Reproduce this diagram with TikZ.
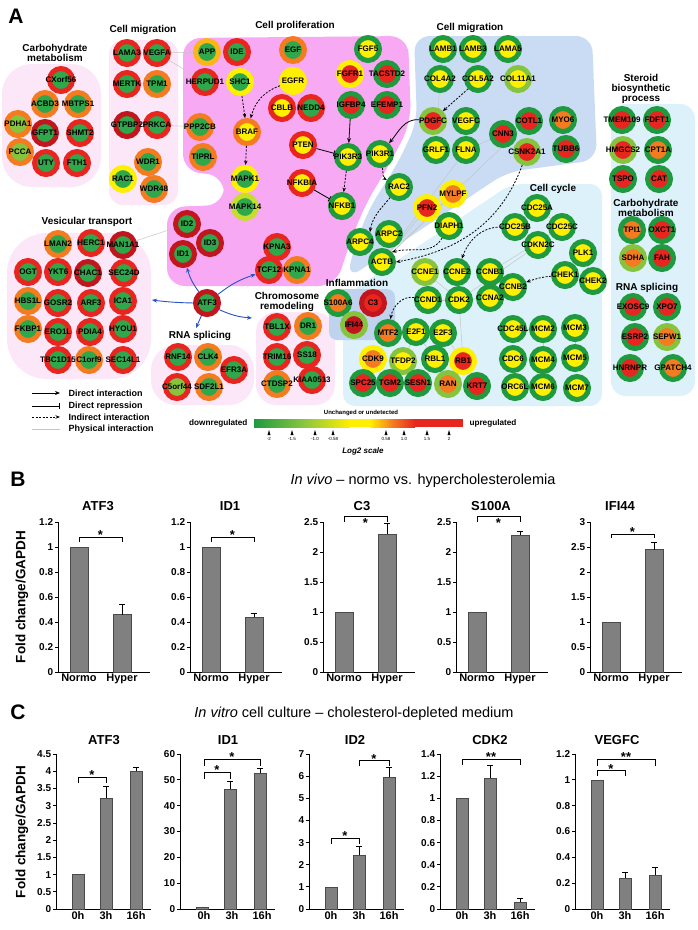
\documentclass[tikz,border=0pt]{standalone}
\usepackage{fontspec}
\setmainfont{Liberation Sans}
\usetikzlibrary{arrows.meta, positioning}
\definecolor{cGrn}{HTML}{2EA84A}
\definecolor{cGdk}{HTML}{1F9A3F}
\definecolor{cGlt}{HTML}{86C440}
\definecolor{cYg}{HTML}{C6DD2E}
\definecolor{cYel}{HTML}{FFEF00}
\definecolor{cYor}{HTML}{FBB516}
\definecolor{cOrg}{HTML}{F47B20}
\definecolor{cRed}{HTML}{E8251F}
\definecolor{cDred}{HTML}{C1161E}
\definecolor{bgPale}{HTML}{FBE7F8}
\definecolor{bgMag}{HTML}{F8A9F3}
\definecolor{bgBlue}{HTML}{C9DCF4}
\definecolor{bgCyan}{HTML}{DDF1FA}
\definecolor{bgInf}{HTML}{BFD3EF}
\definecolor{cBlue}{HTML}{2A52C8}
\definecolor{barGray}{HTML}{808080}
\definecolor{barEdge}{HTML}{4A4A4A}
\pgfdeclarelayer{back}
\pgfdeclarelayer{mid}
\pgfsetlayers{back,mid,main}
\newcommand{\gn}[4]{\node[gene={#3}{#4}] (#1) at (#2) {\makebox[0pt]{#1}};}

\begin{document}
\begin{tikzpicture}[x=1pt, y=-1pt,
  gene/.style 2 args={circle, draw=#1, fill=#2, line width=5pt, minimum size=23pt, inner sep=0pt, font=\bfseries\fontsize{8}{8}\selectfont},
  grp/.style={font=\bfseries\fontsize{10}{10}\selectfont, align=center},
  phys/.style={draw=gray!45, line width=0.5pt},
  dirarr/.style={-{Stealth[length=5pt,width=4pt]}, line width=0.8pt},
  reparr/.style={-{Bar[width=6pt]}, line width=0.8pt},
  indarr/.style={-{Stealth[length=4.5pt,width=3.5pt]}, line width=0.8pt, dash pattern=on 2pt off 1.5pt},
  bluarr/.style={-{Stealth[length=5pt,width=4pt]}, line width=0.9pt, cBlue},
  leg/.style={anchor=west, font=\bfseries\fontsize{9}{10}\selectfont},
  axl/.style={line width=0.8pt},
  barf/.style={fill=barGray, draw=barEdge, line width=0.5pt},
  errb/.style={line width=0.7pt},
  brk/.style={line width=0.8pt},
  tk/.style={left, inner sep=1.5pt, font=\bfseries\fontsize{10}{10}\selectfont},
  cat/.style={below, inner sep=2pt, font=\bfseries\fontsize{11}{11}\selectfont},
  ctit/.style={font=\bfseries\fontsize{13}{13}\selectfont},
  ast/.style={anchor=south, inner sep=0pt, yshift=-3pt, font=\bfseries\fontsize{13}{13}\selectfont},
  astb/.style={anchor=north, inner sep=0pt, yshift=-2pt, font=\bfseries\fontsize{13}{13}\selectfont},
  panel/.style={font=\bfseries\fontsize{21}{21}\selectfont},
  ptit/.style={font=\fontsize{14.5}{15}\selectfont},
  ylab/.style={rotate=90, font=\bfseries\fontsize{13.5}{14}\selectfont},
]
\useasboundingbox (0,0) rectangle (697,930);

% Background regions
\begin{pgfonlayer}{back}
\fill[white] (0,0) rectangle (697,930);
\fill[bgPale, rounded corners=30] (2,64) rectangle (101,187);
\fill[bgPale, rounded corners=14] (109,40) rectangle (178,205);
\fill[bgPale, rounded corners=40] (7,233) rectangle (151,379);
\fill[bgPale, rounded corners=25] (151,345) rectangle (254,405);
\fill[bgPale, rounded corners=20] (256,312) rectangle (335,405);
\fill[bgMag, rounded corners=18] (183,172) -- (183,38) -- (408,36) -- (411,122) -- (392,160) -- (365,205) -- (349,245) -- (336,286) -- (167,286) -- (167,207) -- (224,205) -- (224,175) -- cycle;
\fill[bgCyan, rounded corners=12] (343,406) -- (343,297) -- (511,184) -- (602,184) -- (602,406) -- cycle;
\fill[bgBlue, rounded corners=16] (417,122) -- (414,36) -- (592,36) -- (597,160) -- (507,172) -- (347,279) -- (354,247) -- (370,207) -- (398,163) -- cycle;
\fill[bgInf, rounded corners=8] (329,289) rectangle (395,340);
\fill[bgCyan, rounded corners=15] (611,104) rectangle (695,396);
\end{pgfonlayer}

\node[panel] (pA) at (16,16) {A};

% Group titles
\node[grp] (tCarb1) at (55,53) {Carbohydrate\\metabolism};
\node[grp] (tMig1) at (143,30) {Cell migration};
\node[grp] (tProl) at (295,26) {Cell proliferation};
\node[grp] (tMig2) at (470,28) {Cell migration};
\node[grp] (tSter) at (641,89) {Steroid\\biosynthetic\\process};
\node[grp] (tVes) at (87,222) {Vesicular transport};
\node[grp] (tCyc) at (553,189) {Cell cycle};
\node[grp] (tCarb2) at (646,208) {Carbohydrate\\metabolism};
\node[grp] (tRna2) at (647,288) {RNA splicing};
\node[grp] (tRna1) at (200,336) {RNA splicing};
\node[grp] (tChr) at (287,302) {Chromosome\\remodeling};
\node[grp] (tInf) at (357,283) {Inflammation};

% Carbohydrate metabolism (left)
\gn{CXorf56}{61,80}{cRed}{cGrn}
\gn{ACBD3}{45,104}{cOrg}{cGrn}
\gn{MBTPS1}{78,104}{cOrg}{cGrn}
\gn{PDHA1}{18,124}{cOrg}{cGlt}
\gn{GFPT1}{45,133}{cDred}{cGrn}
\gn{SHMT2}{80,133}{cRed}{cGrn}
\gn{PCCA}{20,152}{cOrg}{cGlt}
\gn{UTY}{46,163}{cRed}{cGrn}
\gn{FTH1}{77,163}{cRed}{cGrn}

% Cell migration (left)
\gn{LAMA3}{127,53}{cRed}{cGrn}
\gn{VEGFA}{157,53}{cRed}{cGrn}
\gn{MERTK}{127,84}{cRed}{cGrn}
\gn{TPM1}{157,84}{cOrg}{cGrn}
\gn{GTPBP2}{127,125}{cDred}{cGrn}
\gn{PRKCA}{157,125}{cRed}{cGrn}
\gn{WDR1}{148,162}{cOrg}{cGrn}
\gn{RAC1}{123,179}{cYel}{cGrn}
\gn{WDR48}{154,189}{cOrg}{cGrn}

% Cell proliferation
\gn{APP}{207,52}{cYor}{cGrn}
\gn{IDE}{237,52}{cRed}{cGrn}
\gn{HERPUD1}{205,82}{cRed}{cGrn}
\gn{SHC1}{240,82}{cYel}{cGrn}
\gn{EGF}{293,50}{cOrg}{cGrn}
\gn{EGFR}{293,81}{cYel}{cYel}
\gn{CBLB}{282,108}{cRed}{cYel}
\gn{NEDD4}{311,108}{cRed}{cGrn}
\gn{FGF5}{368,49}{cGdk}{cYel}
\gn{FGFR1}{350,74}{cYel}{cRed}
\gn{TACSTD2}{387,74}{cGdk}{cRed}
\gn{IGFBP4}{351,105}{cGdk}{cRed}
\gn{EFEMP1}{387,105}{cGdk}{cRed}
\gn{PPP2CB}{200,127}{cOrg}{cGrn}
\gn{BRAF}{247,132}{cOrg}{cYel}
\gn{TIPRL}{203,157}{cOrg}{cGrn}
\gn{PTEN}{303,145}{cRed}{cYel}
\gn{PIK3R3}{348,157}{cGdk}{cYel}
\gn{PIK3R1}{380,154}{cGdk}{cYel}
\gn{MAPK1}{245,179}{cYel}{cGrn}
\gn{MAPK14}{245,207}{cYg}{cGrn}
\gn{NFKBIA}{302,183}{cRed}{cYel}
\gn{NFKB1}{342,206}{cGdk}{cYel}
\gn{ID2}{187,224}{cDred}{cGrn}
\gn{ID3}{210,243}{cDred}{cGrn}
\gn{ID1}{183,254}{cDred}{cGrn}
\gn{KPNA3}{277,247}{cRed}{cGrn}
\gn{TCF12}{269,270}{cRed}{cGrn}
\gn{KPNA1}{297,270}{cOrg}{cGrn}
\gn{ATF3}{207,303}{cDred}{cGrn}

% Cell migration (right)
\gn{LAMB1}{443,49}{cGdk}{cYel}
\gn{LAMB3}{473,49}{cGdk}{cYel}
\gn{LAMA5}{508,49}{cGdk}{cYel}
\gn{COL4A2}{440,79}{cGdk}{cYel}
\gn{COL5A2}{478,79}{cGdk}{cYel}
\gn{COL11A1}{518,79}{cGlt}{cYel}
\gn{PDGFC}{433,121}{cGlt}{cRed}
\gn{VEGFC}{466,121}{cGdk}{cYel}
\gn{GRLF1}{436,150}{cGdk}{cYel}
\gn{FLNA}{466,150}{cGdk}{cYel}
\gn{CNN3}{503,134}{cGdk}{cRed}
\gn{COTL1}{529,121}{cGdk}{cRed}
\gn{MYO6}{563,120}{cGdk}{cOrg}
\gn{CSNK2A1}{527,152}{cGlt}{cRed}
\gn{TUBB6}{566,149}{cGdk}{cRed}
\gn{RAC2}{399,187}{cGdk}{cYel}
\gn{PFN2}{427,208}{cYel}{cRed}
\gn{MYLPF}{453,194}{cYel}{cOrg}
\gn{DIAPH1}{449,226}{cGdk}{cYel}
\gn{ARPC2}{389,234}{cGdk}{cYel}
\gn{ARPC4}{360,242}{cGdk}{cYel}
\gn{ACTB}{382,262}{cGdk}{cYel}

% Steroid, carbohydrate, RNA splicing (right column)
\gn{TMEM109}{622,120}{cGdk}{cRed}
\gn{FDFT1}{657,120}{cGdk}{cRed}
\gn{HMGCS2}{623,150}{cGlt}{cRed}
\gn{CPT1A}{658,150}{cGdk}{cOrg}
\gn{TSPO}{623,179}{cGdk}{cRed}
\gn{CAT}{659,179}{cGdk}{cRed}
\gn{TPI1}{632,230}{cGdk}{cOrg}
\gn{OXCT1}{662,230}{cGdk}{cRed}
\gn{SDHA}{633,258}{cGlt}{cOrg}
\gn{FAH}{662,258}{cGdk}{cRed}
\gn{EXOSC9}{633,307}{cGdk}{cRed}
\gn{XPO7}{667,307}{cGdk}{cRed}
\gn{ESRP2}{635,337}{cGdk}{cRed}
\gn{SEPW1}{667,337}{cGlt}{cOrg}
\gn{HNRNPR}{630,368}{cGdk}{cRed}
\gn{GPATCH4}{673,368}{cGdk}{cOrg}

% Cell cycle
\gn{CDC25A}{537,208}{cGdk}{cYel}
\gn{CDC25B}{515,227}{cGdk}{cYel}
\gn{CDC25C}{562,227}{cGdk}{cYel}
\gn{CDKN2C}{538,245}{cGdk}{cYel}
\gn{PLK1}{583,253}{cGdk}{cYel}
\gn{CHEK1}{565,275}{cGdk}{cYel}
\gn{CHEK2}{593,281}{cGdk}{cYel}
\gn{CCNE1}{425,272}{cGlt}{cYel}
\gn{CCNE2}{457,272}{cGdk}{cYel}
\gn{CCNB1}{490,272}{cGdk}{cYel}
\gn{CCNB2}{513,287}{cGdk}{cYel}
\gn{CCND1}{428,300}{cGdk}{cYel}
\gn{CDK2}{459,300}{cGdk}{cYel}
\gn{CCNA2}{490,298}{cGdk}{cYel}
\gn{MTF2}{388,333}{cGdk}{cOrg}
\gn{E2F1}{416,332}{cGdk}{cYel}
\gn{E2F3}{443,333}{cGdk}{cYel}
\gn{CDK9}{373,359}{cYel}{cOrg}
\gn{TFDP2}{403,361}{cGlt}{cYel}
\gn{RBL1}{435,359}{cGdk}{cYel}
\gn{RB1}{463,361}{cYel}{cRed}
\gn{SPC25}{363,383}{cGdk}{cRed}
\gn{TGM2}{390,383}{cGdk}{cRed}
\gn{SESN1}{418,383}{cGdk}{cRed}
\gn{RAN}{448,384}{cGlt}{cOrg}
\gn{KRT7}{477,386}{cGdk}{cRed}
\gn{CDC45L}{513,329}{cGdk}{cYel}
\gn{MCM2}{543,329}{cGdk}{cYel}
\gn{MCM3}{575,328}{cGdk}{cYel}
\gn{CDC6}{513,359}{cGdk}{cYel}
\gn{MCM4}{543,360}{cGdk}{cYel}
\gn{MCM5}{575,358}{cGdk}{cYel}
\gn{ORC6L}{515,387}{cGdk}{cYel}
\gn{MCM6}{543,387}{cGdk}{cYel}
\gn{MCM7}{577,388}{cGdk}{cYel}

% Inflammation
\gn{S100A6}{338,303}{cGdk}{cOrg}
\gn{C3}{373,303}{cDred}{cRed}
\gn{IFI44}{354,325}{cGlt}{cDred}

% Vesicular transport
\gn{LMAN2}{58,244}{cOrg}{cGrn}
\gn{HERC1}{91,243}{cRed}{cGrn}
\gn{MAN1A1}{123,245}{cDred}{cGrn}
\gn{OGT}{28,272}{cRed}{cGrn}
\gn{YKT6}{58,272}{cRed}{cGrn}
\gn{CHAC1}{88,273}{cDred}{cGrn}
\gn{SEC24D}{124,273}{cRed}{cGrn}
\gn{HBS1L}{28,301}{cOrg}{cGrn}
\gn{GOSR2}{58,303}{cRed}{cGrn}
\gn{ARF3}{91,303}{cRed}{cGrn}
\gn{ICA1}{123,301}{cRed}{cGrn}
\gn{FKBP1}{28,329}{cOrg}{cGrn}
\gn{ERO1L}{58,332}{cRed}{cGrn}
\gn{PDIA4}{90,332}{cRed}{cGrn}
\gn{HYOU1}{123,329}{cRed}{cGrn}
\gn{TBC1D15}{58,360}{cRed}{cGrn}
\gn{C1orf9}{89,360}{cOrg}{cGrn}
\gn{SEC14L1}{123,360}{cRed}{cGrn}

% RNA splicing (middle)
\gn{RNF14}{178,357}{cRed}{cGrn}
\gn{CLK4}{208,357}{cOrg}{cGrn}
\gn{EFR3A}{234,370}{cRed}{cGrn}
\gn{C5orf44}{177,387}{cRed}{cGlt}
\gn{SDF2L1}{209,387}{cOrg}{cGrn}

% Chromosome remodeling
\gn{TBL1X}{277,327}{cRed}{cGrn}
\gn{DR1}{308,326}{cOrg}{cGrn}
\gn{TRIM16}{277,357}{cRed}{cGrn}
\gn{SS18}{307,355}{cRed}{cGrn}
\gn{CTDSP2}{277,384}{cOrg}{cGrn}
\gn{KIAA0513}{312,380}{cRed}{cGrn}

% Physical interactions
\begin{pgfonlayer}{mid}
\foreach \a/\b in {VEGFA/APP, VEGFA/HERPUD1, PRKCA/PPP2CB, MAN1A1/ID2, EGF/EGFR, EGFR/CBLB, EGFR/NEDD4,
  FGF5/FGFR1, FGFR1/IGFBP4, LAMB1/COL4A2, LAMB3/COL5A2, LAMA5/COL11A1, COL4A2/GRLF1, VEGFC/FLNA,
  FLNA/CNN3, FLNA/ACTB, PFN2/ACTB, MYLPF/ACTB, COTL1/ACTB, CCNE1/CDK2, CCNE2/CDK2, CCNB1/CCNB2,
  CCNA2/CDK2, CCND1/CDK2, CDC6/ORC6L, MCM2/MCM4, MCM3/MCM5, MCM4/MCM6, MCM5/MCM7, CDC45L/MCM2,
  E2F1/RBL1, E2F3/RB1, TFDP2/E2F1, CDC25A/CDC25C, PLK1/CHEK2, CDKN2C/CDK2, RB1/CDK2, CDC25C/CCNB1}
  \draw[phys] (\a) -- (\b);
\end{pgfonlayer}

% Regulatory arrows
\draw[indarr] (EGFR) to[out=200,in=75] (BRAF);
\draw[indarr] (SHC1) -- (BRAF);
\draw[indarr] (BRAF) -- (MAPK1);
\draw[dirarr] (IGFBP4) -- (PIK3R3);
\draw[reparr] (PTEN) -- (PIK3R3);
\draw[indarr] (PIK3R3) -- (NFKB1);
\draw[reparr] (NFKBIA) -- (NFKB1);
\draw[dirarr] (PDGFC) to[out=175,in=50] (PIK3R1);
\draw[indarr] (PIK3R1) to[out=-80,in=150] (RAC2);
\draw[indarr] (COL5A2.south west) -- (PDGFC.north east);
\draw[indarr] (RAC2) to[out=-130,in=80] (ARPC4.north east);
\draw[indarr] (DIAPH1) to[out=-120,in=15] (ACTB.north east);
\draw[indarr] (CSNK2A1) to[out=-110,in=10] (ACTB.east);
\draw[indarr] (CDC25B) to[out=180,in=70] (CCNE2);
\draw[indarr] (CHEK1) to[out=185,in=20] (CCNB2);
\draw[indarr] (CCND1) to[out=170,in=80] (MTF2);

% ATF3 targets
\coordinate (vesT) at (152,300);
\coordinate (rnaT) at (196,328);
\coordinate (chrT) at (252,318);
\draw[bluarr] (ATF3) to[bend left=10] (ID1);
\draw[bluarr] (ATF3) to[bend left=3] (vesT);
\draw[bluarr] (ATF3) to[bend left=10] (TCF12);
\draw[bluarr] (ATF3) to[bend right=10] (chrT);
\draw[bluarr] (ATF3) -- (rnaT);

% Legend
\foreach \yy/\st/\tx in {393/dirarr/Direct interaction, 406/reparr/Direct repression,
  417/indarr/Indirect interaction, 429/phys/Physical interaction} {
  \draw[\st] (32,\yy) -- (60,\yy);
  \node[leg] at (65,\yy) {\tx};
}

% Colour scale
\shade[left color=cGdk, right color=cYel, middle color=cGlt] (254,419) rectangle (350,427);
\fill[cYel] (350,419) rectangle (370,427);
\shade[left color=cYel, right color=cRed, middle color=cOrg] (370,419) rectangle (415,427);
\fill[cRed] (415,419) rectangle (463,427);
\node[anchor=east, font=\bfseries\fontsize{8.2}{9}\selectfont] (lDown) at (251,423) {downregulated};
\node[anchor=west, font=\bfseries\fontsize{8.2}{9}\selectfont] (lUp) at (466,423) {upregulated};
\node[font=\bfseries\fontsize{6}{7}\selectfont] (lUnch) at (361,413) {Unchanged or undetected};
\foreach \xx/\lab in {269/-2, 292/-1.5, 315/-1.0, 333/-0.58, 386/0.58, 404/1.0, 427/1.5, 449/2} {
  \fill (\xx-1.5,435) -- (\xx+1.5,435) -- (\xx,430) -- cycle;
  \node[font=\fontsize{4.5}{5}\selectfont, inner sep=0pt] at (\xx,439) {\lab};
}
\node[font=\bfseries\itshape\fontsize{8}{9}\selectfont] (lLog) at (363,451) {Log2 scale};

% Panel B
\node[panel] (pB) at (18,479) {B};
\node[ptit] (tB) at (423,481) {\textit{In vivo} -- normo vs. hypercholesterolemia};
\node[ylab] (yB) at (22,597) {Fold change/GAPDH};

\begin{scope}[shift={(58,672)}, y=125pt]
  \draw[axl] (0,1.2) -- (0,0) -- (92,0);
  \foreach \v in {0,0.2,0.4,0.6,0.8,1,1.2} \draw[axl] (0,\v) -- (-3,\v) node[tk] {\v};
  \draw[barf] (12,0) rectangle (30,1);
  \draw[barf] (55,0) rectangle (73,0.46);
  \draw[errb] (64,0.46) -- (64,0.54) (61,0.54) -- (67,0.54);
  \draw[brk] (21,1.04) |- (64,1.08) -- (64,1.04);
  \node[ast] at (42.5,1.08) {*};
  \node[cat] at (21,0) {Normo};
  \node[cat] at (64,0) {Hyper};
\end{scope}
\node[ctit] at (98,506) {ATF3};

\begin{scope}[shift={(190,672)}, y=125pt]
  \draw[axl] (0,1.2) -- (0,0) -- (92,0);
  \foreach \v in {0,0.2,0.4,0.6,0.8,1,1.2} \draw[axl] (0,\v) -- (-3,\v) node[tk] {\v};
  \draw[barf] (12,0) rectangle (30,1);
  \draw[barf] (55,0) rectangle (73,0.44);
  \draw[errb] (64,0.44) -- (64,0.47) (61,0.47) -- (67,0.47);
  \draw[brk] (21,1.04) |- (64,1.08) -- (64,1.04);
  \node[ast] at (42.5,1.08) {*};
  \node[cat] at (21,0) {Normo};
  \node[cat] at (64,0) {Hyper};
\end{scope}
\node[ctit] at (230,506) {ID1};

\begin{scope}[shift={(323,672)}, y=60pt]
  \draw[axl] (0,2.5) -- (0,0) -- (92,0);
  \foreach \v in {0,0.5,1,1.5,2,2.5} \draw[axl] (0,\v) -- (-3,\v) node[tk] {\v};
  \draw[barf] (12,0) rectangle (30,1);
  \draw[barf] (55,0) rectangle (73,2.3);
  \draw[errb] (64,2.3) -- (64,2.48) (61,2.48) -- (67,2.48);
  \draw[brk] (21,2.5) |- (64,2.6) -- (64,2.5);
  \node[astb] at (42.5,2.6) {*};
  \node[cat] at (21,0) {Normo};
  \node[cat] at (64,0) {Hyper};
\end{scope}
\node[ctit] at (362,506) {C3};

\begin{scope}[shift={(456,672)}, y=60pt]
  \draw[axl] (0,2.5) -- (0,0) -- (92,0);
  \foreach \v in {0,0.5,1,1.5,2,2.5} \draw[axl] (0,\v) -- (-3,\v) node[tk] {\v};
  \draw[barf] (12,0) rectangle (30,1);
  \draw[barf] (55,0) rectangle (73,2.28);
  \draw[errb] (64,2.28) -- (64,2.35) (61,2.35) -- (67,2.35);
  \draw[brk] (21,2.5) |- (64,2.6) -- (64,2.5);
  \node[astb] at (42.5,2.6) {*};
  \node[cat] at (21,0) {Normo};
  \node[cat] at (64,0) {Hyper};
\end{scope}
\node[ctit] at (491,506) {S100A};

\begin{scope}[shift={(590,672)}, y=50pt]
  \draw[axl] (0,3) -- (0,0) -- (92,0);
  \foreach \v in {0,0.5,1,1.5,2,2.5,3} \draw[axl] (0,\v) -- (-3,\v) node[tk] {\v};
  \draw[barf] (12,0) rectangle (30,1);
  \draw[barf] (55,0) rectangle (73,2.45);
  \draw[errb] (64,2.45) -- (64,2.6) (61,2.6) -- (67,2.6);
  \draw[brk] (21,2.68) |- (64,2.76) -- (64,2.68);
  \node[ast] at (42.5,2.76) {*};
  \node[cat] at (21,0) {Normo};
  \node[cat] at (64,0) {Hyper};
\end{scope}
\node[ctit] at (620,506) {IFI44};

% Panel C
\node[panel] (pC) at (18,712) {C};
\node[ptit] (tC) at (354,714) {\textit{In vitro} cell culture -- cholesterol-depleted medium};
\node[ylab] (yC) at (22,832) {Fold change/GAPDH};

\begin{scope}[shift={(56,909)}, y=34.444pt]
  \draw[axl] (0,4.5) -- (0,0) -- (95,0);
  \foreach \v in {0,0.5,1,1.5,2,2.5,3,3.5,4,4.5} \draw[axl] (0,\v) -- (-3,\v) node[tk] {\v};
  \draw[barf] (16,0) rectangle (28,1);
  \draw[barf] (44,0) rectangle (56,3.22);
  \draw[barf] (74,0) rectangle (86,4);
  \draw[errb] (50,3.22) -- (50,3.55) (47,3.55) -- (53,3.55);
  \draw[errb] (80,4) -- (80,4.1) (77,4.1) -- (83,4.1);
  \draw[brk] (22,3.65) |- (50,3.83) -- (50,3.65);
  \node[ast] at (36,3.83) {*};
  \foreach \xx/\lab in {22/0h, 50/3h, 80/16h} \node[cat] at (\xx,0) {\lab};
\end{scope}
\node[ctit] at (104,740) {ATF3};

\begin{scope}[shift={(180,909)}, y=2.5833pt]
  \draw[axl] (0,60) -- (0,0) -- (95,0);
  \foreach \v in {0,10,20,30,40,50,60} \draw[axl] (0,\v) -- (-3,\v) node[tk] {\v};
  \draw[barf] (16,0) rectangle (28,0.8);
  \draw[barf] (44,0) rectangle (56,46.5);
  \draw[barf] (74,0) rectangle (86,52.5);
  \draw[errb] (50,46.5) -- (50,49.5) (47,49.5) -- (53,49.5);
  \draw[errb] (80,52.5) -- (80,54.5) (77,54.5) -- (83,54.5);
  \draw[brk] (24,50.5) |- (50,53) -- (50,50.5);
  \draw[brk] (24,55.5) |- (80,58) -- (80,55.5);
  \node[ast] at (37,53) {*};
  \node[ast] at (52,58) {*};
  \foreach \xx/\lab in {24/0h, 52/3h, 82/16h} \node[cat] at (\xx,0) {\lab};
\end{scope}
\node[ctit] at (228,740) {ID1};

\begin{scope}[shift={(309,909)}, y=22.143pt]
  \draw[axl] (0,7) -- (0,0) -- (95,0);
  \foreach \v in {0,1,2,3,4,5,6,7} \draw[axl] (0,\v) -- (-3,\v) node[tk] {\v};
  \draw[barf] (16,0) rectangle (28,1);
  \draw[barf] (44,0) rectangle (56,2.42);
  \draw[barf] (74,0) rectangle (86,5.95);
  \draw[errb] (50,2.42) -- (50,2.85) (47,2.85) -- (53,2.85);
  \draw[errb] (80,5.95) -- (80,6.4) (77,6.4) -- (83,6.4);
  \draw[brk] (22,2.95) |- (50,3.2) -- (50,2.95);
  \draw[brk] (50,6.45) |- (80,6.7) -- (80,6.45);
  \node[ast] at (36,3.2) {*};
  \node[ast] at (65,6.7) {*};
  \foreach \xx/\lab in {22/0h, 50/3h, 80/16h} \node[cat] at (\xx,0) {\lab};
\end{scope}
\node[ctit] at (355,740) {ID2};

\begin{scope}[shift={(440,909)}, y=110.71pt]
  \draw[axl] (0,1.4) -- (0,0) -- (95,0);
  \foreach \v in {0,0.2,0.4,0.6,0.8,1,1.2,1.4} \draw[axl] (0,\v) -- (-3,\v) node[tk] {\v};
  \draw[barf] (16,0) rectangle (28,1);
  \draw[barf] (44,0) rectangle (56,1.18);
  \draw[barf] (74,0) rectangle (86,0.06);
  \draw[errb] (50,1.18) -- (50,1.3) (47,1.3) -- (53,1.3);
  \draw[errb] (80,0.06) -- (80,0.1) (77,0.1) -- (83,0.1);
  \draw[brk] (22,1.3) |- (80,1.355) -- (80,1.3);
  \node[ast] at (51,1.355) {**};
  \foreach \xx/\lab in {22/0h, 50/3h, 80/16h} \node[cat] at (\xx,0) {\lab};
\end{scope}
\node[ctit] at (490,740) {CDK2};

\begin{scope}[shift={(575,909)}, y=129.17pt]
  \draw[axl] (0,1.2) -- (0,0) -- (95,0);
  \foreach \v in {0,0.2,0.4,0.6,0.8,1,1.2} \draw[axl] (0,\v) -- (-3,\v) node[tk] {\v};
  \draw[barf] (16,0) rectangle (28,1);
  \draw[barf] (44,0) rectangle (56,0.24);
  \draw[barf] (74,0) rectangle (86,0.26);
  \draw[errb] (50,0.24) -- (50,0.28) (47,0.28) -- (53,0.28);
  \draw[errb] (80,0.26) -- (80,0.32) (77,0.32) -- (83,0.32);
  \draw[brk] (22,1.03) |- (50,1.07) -- (50,1.03);
  \draw[brk] (22,1.11) |- (80,1.16) -- (80,1.11);
  \node[ast] at (36,1.07) {*};
  \node[ast] at (51,1.16) {**};
  \foreach \xx/\lab in {22/0h, 50/3h, 80/16h} \node[cat] at (\xx,0) {\lab};
\end{scope}
\node[ctit] at (617,740) {VEGFC};

\end{tikzpicture}
\end{document}
